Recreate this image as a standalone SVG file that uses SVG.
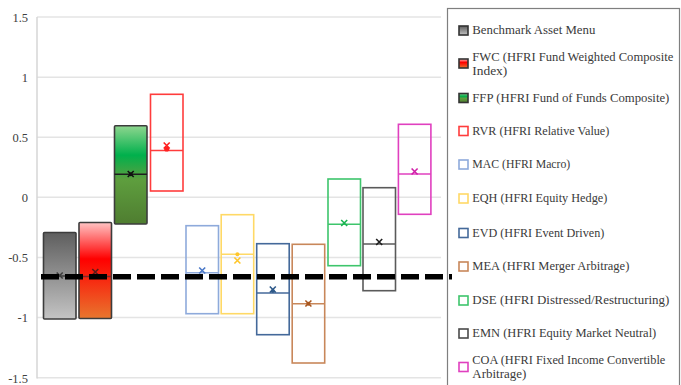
<svg xmlns="http://www.w3.org/2000/svg" width="681" height="385" viewBox="0 0 681 385">
  <defs>
    <linearGradient id="gGray" x1="0" y1="0" x2="0" y2="1">
      <stop offset="0" stop-color="#5e5e5e"/>
      <stop offset="1" stop-color="#c4c4c4"/>
    </linearGradient>
    <linearGradient id="gRed" x1="0" y1="0" x2="0" y2="1">
      <stop offset="0" stop-color="#ffc4c4"/>
      <stop offset="0.38" stop-color="#ff0000"/>
      <stop offset="1" stop-color="#e8762e"/>
    </linearGradient>
    <linearGradient id="gGreen" x1="0" y1="0" x2="0" y2="1">
      <stop offset="0" stop-color="#8fd68f"/>
      <stop offset="0.3" stop-color="#00b04c"/>
      <stop offset="0.55" stop-color="#5e9e3e"/>
      <stop offset="1" stop-color="#4f7d30"/>
    </linearGradient>
    <g id="xm"><path d="M-3,-3 L3,3 M3,-3 L-3,3" stroke-width="1.6"/></g>
  </defs>
  <style>
    .grid { stroke: #e4e4e4; stroke-width: 1.5; }
    .axis { stroke: #d6d6d6; stroke-width: 1.5; }
    .tick { font-family: "Liberation Serif", "DejaVu Serif", serif; font-size: 12.5px; fill: #404040; text-anchor: end; }
    .filled { stroke: #3c3c3c; stroke-width: 1.6; }
    .open { fill: none; stroke-width: 1.6; }
    .med { stroke-width: 1.6; }
    .leg { font-family: "Liberation Serif", "DejaVu Serif", serif; font-size: 12.5px; fill: #3a3a3a; }
    .lbox { stroke-width: 1.6; }
  </style>
  <rect width="681" height="385" fill="#ffffff"/>

  <!-- value axis: y = 197.3 - 120.3 * v -->
  <g id="gridlines">
    <line class="grid" x1="37" y1="17" x2="441" y2="17"/>
    <line class="grid" x1="37" y1="77.2" x2="441" y2="77.2"/>
    <line class="grid" x1="37" y1="137.3" x2="441" y2="137.3"/>
    <line class="grid" x1="37" y1="197.3" x2="441" y2="197.3"/>
    <line class="grid" x1="37" y1="257.5" x2="441" y2="257.5"/>
    <line class="grid" x1="37" y1="317.6" x2="441" y2="317.6"/>
    <line class="grid" x1="37" y1="377.8" x2="441" y2="377.8"/>
    <line class="axis" x1="37" y1="17" x2="37" y2="378.5"/>
  </g>
  <g id="ticks">
    <text class="tick" x="28" y="22">1.5</text>
    <text class="tick" x="28" y="82">1</text>
    <text class="tick" x="28" y="142">0.5</text>
    <text class="tick" x="28" y="202">0</text>
    <text class="tick" x="28" y="262">-0.5</text>
    <text class="tick" x="28" y="322">-1</text>
    <text class="tick" x="28" y="383">-1.5</text>
  </g>

  <!-- boxes -->
  <g id="bench">
    <rect class="filled" x="43.5" y="232.5" width="32.5" height="86.5" fill="url(#gGray)" rx="1"/>
    <line class="med" x1="43.5" y1="276" x2="76" y2="276" stroke="#3c3c3c"/>
    <use href="#xm" x="59.7" y="275.5" stroke="#3c3c3c"/>
  </g>
  <g id="fwc">
    <rect class="filled" x="79" y="222.5" width="32.5" height="96" fill="url(#gRed)" rx="1"/>
    <line class="med" x1="79" y1="276.5" x2="111.5" y2="276.5" stroke="#7a2a2a"/>
    <use href="#xm" x="95.3" y="272" stroke="#5a1a1a"/>
  </g>
  <g id="ffp">
    <rect class="filled" x="114.5" y="125.7" width="32.5" height="98.3" fill="url(#gGreen)" rx="1"/>
    <line class="med" x1="114.5" y1="174.3" x2="147" y2="174.3" stroke="#1e1e1e"/>
    <use href="#xm" x="130.7" y="174" stroke="#111111"/>
    <circle cx="130.7" cy="174.3" r="2" fill="#111111"/>
  </g>
  <g id="rvr">
    <rect class="open" x="150.5" y="94.3" width="32.5" height="96.7" stroke="#ff3c3c"/>
    <line class="med" x1="150.5" y1="150.5" x2="183" y2="150.5" stroke="#ff3c3c"/>
    <use href="#xm" x="166.7" y="145.5" stroke="#ff2020"/>
    <circle cx="166.7" cy="149" r="2.6" fill="#ff2020"/>
  </g>
  <g id="mac">
    <rect class="open" x="186" y="225.7" width="32.5" height="88" stroke="#8eaadb"/>
    <line class="med" x1="186" y1="272.7" x2="218.5" y2="272.7" stroke="#8eaadb"/>
    <use href="#xm" x="202.2" y="270.5" stroke="#4a78c8"/>
  </g>
  <g id="eqh">
    <rect class="open" x="221.2" y="214.7" width="32.5" height="99" stroke="#ffd966"/>
    <line class="med" x1="221.2" y1="254.2" x2="253.7" y2="254.2" stroke="#ffd966"/>
    <use href="#xm" x="237.4" y="260.5" stroke="#ffc62a"/>
    <circle cx="237.4" cy="254.3" r="2" fill="#ffc62a"/>
  </g>
  <g id="evd">
    <rect class="open" x="256.7" y="243.7" width="32.5" height="91" stroke="#44699a"/>
    <line class="med" x1="256.7" y1="293" x2="289.2" y2="293" stroke="#44699a"/>
    <use href="#xm" x="272.8" y="289.5" stroke="#2f5a8a"/>
    <circle cx="272.8" cy="291" r="2" fill="#2f5a8a"/>
  </g>
  <g id="mea">
    <rect class="open" x="292.2" y="244.3" width="32.5" height="118.7" stroke="#c8875a"/>
    <line class="med" x1="292.2" y1="303.7" x2="324.7" y2="303.7" stroke="#c8875a"/>
    <use href="#xm" x="308.4" y="303.5" stroke="#a9561e"/>
    <circle cx="308.4" cy="303.7" r="2" fill="#a9561e"/>
  </g>
  <g id="dse">
    <rect class="open" x="328" y="179" width="32.5" height="86.7" stroke="#3ec56c"/>
    <line class="med" x1="328" y1="224.3" x2="360.5" y2="224.3" stroke="#3ec56c"/>
    <use href="#xm" x="344.2" y="223" stroke="#19b350"/>
  </g>
  <g id="emn">
    <rect class="open" x="363" y="187.7" width="32.5" height="103" stroke="#5a5a5a"/>
    <line class="med" x1="363" y1="244" x2="395.5" y2="244" stroke="#5a5a5a"/>
    <use href="#xm" x="379.2" y="242" stroke="#1e1e1e"/>
  </g>
  <g id="coa">
    <rect class="open" x="398.4" y="124.3" width="32.5" height="90" stroke="#e040bf"/>
    <line class="med" x1="398.4" y1="174" x2="430.9" y2="174" stroke="#e040bf"/>
    <use href="#xm" x="414.6" y="171.5" stroke="#d01ea8"/>
  </g>

  <!-- benchmark reference level -->
  <g id="connectors">
    <line x1="41" y1="276.7" x2="452" y2="276.7" stroke="#000000" stroke-width="5.5" stroke-dasharray="18 6"/>
  </g>

  <!-- legend -->
  <g id="legend">
    <rect x="447.5" y="8.5" width="232" height="385" fill="none" stroke="#7f7f7f" stroke-width="1.2"/>
    <rect class="lbox" x="459" y="26" width="9" height="9" fill="url(#gGray)" stroke="#333333"/>
    <text class="leg" x="472.3" y="34.3" textLength="123" lengthAdjust="spacingAndGlyphs">Benchmark Asset Menu</text>

    <rect class="lbox" x="459" y="59" width="9" height="9" fill="url(#gRed)" stroke="#333333"/>
    <text class="leg" x="472.3" y="60.8" textLength="201" lengthAdjust="spacingAndGlyphs">FWC (HFRI Fund Weighted Composite</text>
    <text class="leg" x="472.3" y="75.1" textLength="35" lengthAdjust="spacingAndGlyphs">Index)</text>

    <rect class="lbox" x="459" y="93.5" width="9" height="9" fill="url(#gGreen)" stroke="#333333"/>
    <text class="leg" x="472.3" y="101.8" textLength="197" lengthAdjust="spacingAndGlyphs">FFP (HFRI Fund of Funds Composite)</text>

    <rect class="lbox" x="459" y="126.5" width="9" height="9" fill="none" stroke="#ff3c3c"/>
    <text class="leg" x="472.3" y="134.8" textLength="137" lengthAdjust="spacingAndGlyphs">RVR (HFRI Relative Value)</text>

    <rect class="lbox" x="459" y="160" width="9" height="9" fill="none" stroke="#8eaadb"/>
    <text class="leg" x="472.3" y="168.4" textLength="98" lengthAdjust="spacingAndGlyphs">MAC (HFRI Macro)</text>

    <rect class="lbox" x="459" y="194" width="9" height="9" fill="none" stroke="#ffd966"/>
    <text class="leg" x="472.3" y="202.4" textLength="135" lengthAdjust="spacingAndGlyphs">EQH (HFRI Equity Hedge)</text>

    <rect class="lbox" x="459" y="228.5" width="9" height="9" fill="none" stroke="#44699a"/>
    <text class="leg" x="472.3" y="236.8" textLength="132" lengthAdjust="spacingAndGlyphs">EVD (HFRI Event Driven)</text>

    <rect class="lbox" x="459" y="262" width="9" height="9" fill="none" stroke="#c8875a"/>
    <text class="leg" x="472.3" y="270.1" textLength="157" lengthAdjust="spacingAndGlyphs">MEA (HFRI Merger Arbitrage)</text>

    <rect class="lbox" x="459" y="296" width="9" height="9" fill="none" stroke="#3ec56c"/>
    <text class="leg" x="472.3" y="304.1" textLength="197" lengthAdjust="spacingAndGlyphs">DSE (HFRI Distressed/Restructuring)</text>

    <rect class="lbox" x="459" y="329" width="9" height="9" fill="none" stroke="#4a4a4a"/>
    <text class="leg" x="472.3" y="337.4" textLength="184" lengthAdjust="spacingAndGlyphs">EMN (HFRI Equity Market Neutral)</text>

    <rect class="lbox" x="459" y="362.5" width="9" height="9" fill="none" stroke="#e040bf"/>
    <text class="leg" x="472.3" y="364.1" textLength="193" lengthAdjust="spacingAndGlyphs">COA (HFRI Fixed Income Convertible</text>
    <text class="leg" x="472.3" y="378.4" textLength="54" lengthAdjust="spacingAndGlyphs">Arbitrage)</text>
  </g>
</svg>
